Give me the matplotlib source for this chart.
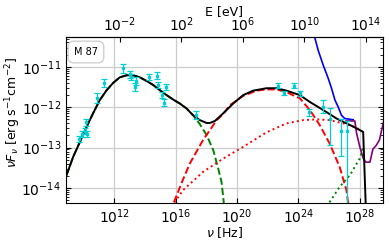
import matplotlib
matplotlib.use('Agg')

import matplotlib.pyplot as plt
import numpy as np

# log10(nu [Hz]) / log10(nuFnu [erg s^-1 cm^-2])
obs_lognu = [9.70, 9.88, 10.09, 10.16, 10.22, 10.89, 11.33, 12.59, 13.02, 13.07,
             13.37, 13.43, 14.24, 14.76, 14.86, 15.09, 15.26, 15.37, 17.36,
             22.68, 23.05, 23.70, 24.09, 24.66, 25.61, 26.04, 26.78, 27.17]
obs_logf = [-12.79, -12.67, -12.59, -12.37, -12.67, -11.78, -11.41, -11.04, -11.19, -11.25,
            -11.50, -11.35, -11.25, -11.22, -11.45, -11.70, -11.89, -11.50, -12.20,
            -11.47, -11.66, -11.47, -11.66, -12.13, -11.99, -12.28, -12.59, -12.59]
obs_err_lo = [0.07, 0.07, 0.07, 0.09, 0.07, 0.12, 0.10, 0.11, 0.08, 0.08,
              0.09, 0.09, 0.08, 0.08, 0.08, 0.08, 0.09, 0.08, 0.10,
              0.06, 0.05, 0.06, 0.06, 0.08, 0.16, 0.65, 0.62, 3.0]
obs_err_hi = [0.07, 0.07, 0.07, 0.09, 0.07, 0.12, 0.10, 0.11, 0.08, 0.08,
              0.09, 0.09, 0.08, 0.08, 0.08, 0.08, 0.09, 0.08, 0.10,
              0.06, 0.05, 0.06, 0.06, 0.08, 0.16, 0.25, 0.31, 0.25]

# total model
tot_lognu = [8.90, 9.33, 9.77, 10.20, 10.63, 11.07, 11.51, 11.93, 12.37, 12.81, 13.24,
             13.67, 14.11, 14.54, 14.98, 15.41, 15.84, 16.28, 16.71, 17.14, 17.58,
             18.02, 18.23, 18.56, 19.10, 19.75, 20.40, 21.05, 21.92, 22.57, 23.22,
             24.09, 24.74, 25.61, 26.48, 27.35, 28.21, 28.43]
tot_logf = [-13.68, -13.23, -12.86, -12.49, -12.15, -11.82, -11.58, -11.40, -11.26, -11.21, -11.21,
            -11.26, -11.35, -11.45, -11.58, -11.70, -11.81, -11.91, -12.03, -12.20, -12.32,
            -12.39, -12.39, -12.34, -12.15, -11.91, -11.70, -11.59, -11.53, -11.53, -11.59,
            -11.70, -11.87, -12.07, -12.28, -12.44, -12.61, -15.0]

# synchrotron (green dashed)
syn_lognu = [8.90, 9.33, 9.77, 10.20, 10.63, 11.07, 11.51, 11.93, 12.37, 12.81, 13.24,
             13.67, 14.11, 14.54, 14.98, 15.41, 15.84, 16.28, 16.71, 17.14, 17.58,
             18.02, 18.45, 18.77, 18.99, 19.14, 19.20]
syn_logf = [-13.68, -13.23, -12.86, -12.49, -12.15, -11.82, -11.58, -11.40, -11.26, -11.21, -11.21,
            -11.26, -11.35, -11.45, -11.58, -11.70, -11.81, -11.91, -12.03, -12.20, -12.42,
            -12.69, -13.06, -13.51, -13.85, -14.37, -14.6]

# SSC (red dashed)
ssc_lognu = [15.75, 15.84, 16.47, 16.93, 17.79, 18.23, 18.67, 19.10, 19.53, 20.40, 21.27,
             21.92, 22.57, 23.22, 24.09, 24.74, 25.38, 26.03, 26.68, 27.12, 27.23, 27.30]
ssc_logf = [-14.6, -14.40, -13.80, -13.39, -12.81, -12.57, -12.32, -12.17, -11.95, -11.72, -11.59,
            -11.56, -11.56, -11.63, -11.78, -12.07, -12.44, -12.90, -13.48, -14.05, -14.37, -14.6]

# second component (red dotted)
ext_lognu = [15.75, 15.84, 16.49, 17.79, 19.10, 20.40, 21.92, 23.22, 24.30, 25.18,
             26.04, 26.91, 27.78, 28.11]
ext_logf = [-14.6, -14.40, -14.05, -13.60, -13.27, -12.98, -12.62, -12.40, -12.32, -12.30,
            -12.32, -12.40, -12.50, -12.61]

# green dotted
hadr_lognu = [25.85, 26.04, 26.68, 27.35, 28.00, 28.21]
hadr_logf = [-14.6, -14.34, -13.97, -13.68, -13.26, -12.99]

# sensitivity curves
blue_lognu = [24.96, 25.07, 25.28, 25.61, 25.93, 26.15, 26.37, 26.58, 26.80, 27.01, 27.56]
blue_logf = [-10.10, -10.29, -10.59, -10.96, -11.28, -11.53, -11.82, -11.99, -12.20, -12.28, -12.31]
purple_lognu = [27.10, 27.67, 27.78, 27.99, 28.21, 28.39, 28.65, 28.84, 29.07, 29.27, 29.49, 29.60]
purple_logf = [-12.34, -12.34, -12.64, -12.98, -13.26, -13.36, -13.36, -13.04, -12.94, -12.81, -12.44, -12.25]

h_ev = 4.135667e-15

p = lambda a: 10 ** np.array(a)

fig = plt.figure(figsize=(3.9, 2.44), dpi=100)
ax = fig.add_axes([0.169, 0.168, 0.813, 0.680])

ax.plot(p(blue_lognu), p(blue_logf), color='b', lw=1.2)
ax.plot(p(purple_lognu), p(purple_logf), color='purple', lw=1.2)
ax.plot(p(syn_lognu), p(syn_logf), color='g', ls='--', lw=1.4)
ax.plot(p(ssc_lognu), p(ssc_logf), color='r', ls='--', lw=1.4)
ax.plot(p(ext_lognu), p(ext_logf), color='r', ls=':', lw=1.4)
ax.plot(p(hadr_lognu), p(hadr_logf), color='g', ls=':', lw=1.4)
ax.plot(p(tot_lognu), p(tot_logf), color='k', lw=1.4)

f = p(obs_logf)
yerr = [f - p(np.array(obs_logf) - np.array(obs_err_lo)),
        p(np.array(obs_logf) + np.array(obs_err_hi)) - f]
ax.errorbar(p(obs_lognu), f, yerr=yerr, fmt='s', color='darkturquoise', ms=2,
            elinewidth=0.9, capsize=2, capthick=0.9, zorder=5)

ax.set_xscale('log')
ax.set_yscale('log')
ax.set_xlim(10 ** 8.86, 10 ** 29.5)
ax.set_ylim(10 ** -14.37, 10 ** -10.265)
ax.set_xticks([1e12, 1e16, 1e20, 1e24, 1e28])
ax.set_yticks([1e-14, 1e-13, 1e-12, 1e-11])
ax.grid(True, which='major', color='#cccccc', lw=0.9)
ax.tick_params(which='both', direction='in', right=True, labelsize=10)
ax.tick_params(axis='x', which='minor', bottom=False)
ax.set_xlabel(r'$\nu$ [Hz]', fontsize=9, labelpad=-1)
ax.set_ylabel(r'$\nu F_\nu$ [erg s$^{-1}$cm$^{-2}$]', fontsize=9)
ax.yaxis.set_label_coords(-0.136, 0.548)

secax = ax.secondary_xaxis('top', functions=(lambda x: x * h_ev, lambda e: e / h_ev))
secax.set_xticks([1e-2, 1e2, 1e6, 1e10, 1e14])
secax.tick_params(which='both', direction='in', labelsize=10, pad=2)
secax.tick_params(which='minor', top=False)
secax.set_xlabel('E [eV]', fontsize=9, labelpad=0.5)

ax.text(0.063, 0.91, 'M 87', transform=ax.transAxes, fontsize=7, ha='center', va='center',
        bbox=dict(boxstyle='round,pad=0.6', fc='white', ec='#cccccc', alpha=0.9))

fig.savefig('out.png', dpi=100)
print("Сохранён как out.png")
